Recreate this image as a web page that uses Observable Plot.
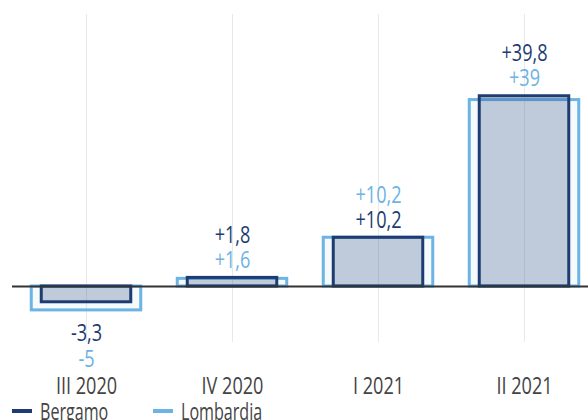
<!DOCTYPE html>
<html><head><meta charset="utf-8">
<script src="https://cdn.jsdelivr.net/npm/d3@7"></script>
<script src="https://cdn.jsdelivr.net/npm/@observablehq/plot@0.6"></script>
<style>
body{margin:0;background:#fff;font-family:"Open Sans",sans-serif;}
#legend{position:relative;height:20px;font-size:23px;line-height:22px;color:#444;}
.item{position:absolute;top:0;display:flex;align-items:center;height:22px;}
.sw{width:20px;height:4px;margin-right:8px;flex:none;}
.lt{display:inline-block;transform:scaleX(0.7);transform-origin:left center;}
</style></head><body>
<div id="chart"></div>
<div id="legend"></div>
<script>
const categories = ["III 2020","IV 2020","I 2021","II 2021"];
const bergamo = [-3.3, 1.8, 10.2, 39.8];
const lombardia = [-5, 1.6, 10.2, 39];
const seriesNames = ["Bergamo","Lombardia"];
const seriesColors = ["#1e3c72","#6db3e3"];

const color = {Bergamo: seriesColors[0], Lombardia: seriesColors[1]};
const fmt = v => (v > 0 ? "+" : "") + String(v).replace(".", ",");

const bData = categories.map((c,i) => ({category:c, value:bergamo[i], series:"Bergamo"}));
const lData = categories.map((c,i) => ({category:c, value:lombardia[i], series:"Lombardia"}));

const labels = [];
categories.forEach((c,i) => {
  const b = bData[i], l = lData[i];
  const pos = Math.max(b.value, l.value) > 0;
  let near, far;
  if (pos) {
    if (b.value > l.value) { far = b; near = l; } else { far = l; near = b; }
  } else {
    if (b.value >= l.value) { near = b; far = l; } else { near = l; far = b; }
  }
  const anchor = pos ? Math.max(b.value, l.value) : Math.min(b.value, l.value);
  labels.push({category:c, anchor, text:fmt(near.value), series:near.series, slot:"near", pos});
  labels.push({category:c, anchor, text:fmt(far.value), series:far.series, slot:"far", pos});
});
const sel = (slot, pos) => labels.filter(d => d.slot === slot && d.pos === pos);
const FS = 23.5;
const textOpts = {x:"category", y:"anchor", text:"text", fill: d => color[d.series], lineAnchor:"bottom", fontSize:FS};

const chart = Plot.plot({
  width: 588, height: 400,
  marginLeft: 12, marginRight: 0, marginTop: 14, marginBottom: 58,
  style: {fontFamily: '"Open Sans",sans-serif', fontSize: FS + "px", background: "#fff"},
  x: {domain: categories, range: [11.75, 597.75], padding: 0, axis: null},
  y: {domain: [0, 40], range: [286, 94.8], axis: null},
  marks: [
    Plot.ruleX(categories, {stroke: "#e8e8e8", strokeWidth: 1}),
    Plot.barY(lData, {x: "category", y: "value", fill: color.Lombardia, fillOpacity: 0.07, stroke: color.Lombardia, strokeWidth: 3, insetLeft: 18.25, insetRight: 18.25}),
    Plot.barY(bData, {x: "category", y: "value", fill: color.Bergamo, fillOpacity: 0.25, stroke: color.Bergamo, strokeWidth: 3, insetLeft: 28.25, insetRight: 28.25}),
    Plot.ruleY([0], {stroke: "#333", strokeWidth: 2}),
    Plot.text(sel("near", true), {...textOpts, dy: -10}),
    Plot.text(sel("far", true), {...textOpts, dy: -35}),
    Plot.text(sel("near", false), {...textOpts, dy: 31}),
    Plot.text(sel("far", false), {...textOpts, dy: 57}),
    Plot.axisX({tickSize: 0, tickPadding: 35, fontSize: FS, color: "#444", label: null})
  ]
});
// condense the glyphs horizontally (the reference uses a condensed face)
chart.querySelectorAll("text").forEach(t => {
  const tr = t.getAttribute("transform") || "";
  const x = t.getAttribute("x");
  let extra = "";
  if (x !== null && !String(x).includes("em")) { extra = ` translate(${+x},0)`; t.removeAttribute("x"); }
  t.setAttribute("transform", `${tr}${extra} scale(0.77,1)`);
});
document.getElementById("chart").appendChild(chart);

const legend = document.getElementById("legend");
const lefts = [12, 153];
seriesNames.forEach((n, i) => {
  const it = document.createElement("div");
  it.className = "item";
  it.style.left = lefts[i] + "px";
  it.innerHTML = `<span class="sw" style="background:${seriesColors[i]}"></span><span class="lt">${n}</span>`;
  legend.appendChild(it);
});
</script>
</body></html>
